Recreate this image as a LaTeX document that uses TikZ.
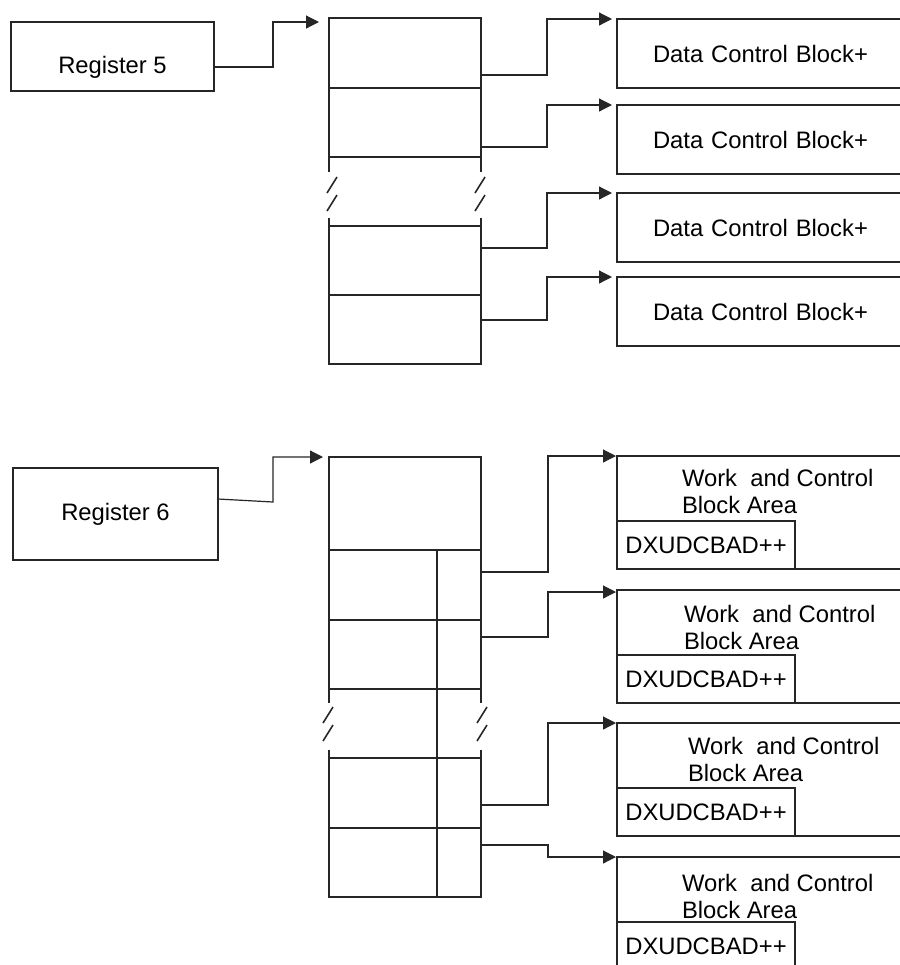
\documentclass[tikz,border=0pt]{standalone}
\usepackage{fontspec}
\setmainfont{Liberation Sans}
\usetikzlibrary{arrows.meta}

\begin{document}
\begin{tikzpicture}[x=0.5pt, y=-0.5pt,
        font=\fontsize{11.9}{13.5}\selectfont,
        every node/.style={inner sep=0pt, outer sep=0pt},
        box/.style={draw=black!85, line width=0.6pt},
        cell/.style={box, anchor=north west, minimum width=76pt},
        dcb/.style={box, anchor=north west, minimum width=156pt, minimum height=34.5pt,
            text width=120pt, inner xsep=18pt, align=left},
        wcb/.style={box, anchor=north west, minimum width=156pt, minimum height=56.5pt},
        dxu/.style={box, anchor=south west, minimum width=89pt, minimum height=24pt},
        wtext/.style={anchor=north west, align=left},
        conn/.style={draw=black!85, line width=0.6pt, -{Triangle[length=6.5pt,width=6.5pt]}},
        brk/.style={draw=black!85, line width=0.8pt}]
            \useasboundingbox (0,0) rectangle (900,965);
            \clip (0,0) rectangle (900,965);

            % upper part
            \node[box, minimum width=101.5pt, minimum height=34.5pt,
                label={[yshift=-5.25pt]center:Register 5}] (r5) at (112.5,56.5) {};
            \node[cell, minimum height=35pt] (a1) at (329,18) {};
            \node[cell, minimum height=34.5pt] (a2) at (329,88) {};
            \node[cell, minimum height=34.5pt] (a3) at (329,226) {};
            \node[cell, minimum height=34.5pt] (a4) at (329,295) {};
            \draw[box] (a2.south west) -- ++(0,15) (a2.south east) -- ++(0,15);
            \draw[box] (a3.north west) -- ++(0,-8) (a3.north east) -- ++(0,-8);
            \draw[brk] ([shift={(8,20)}]a2.south west) -- ++(-10,16)
                ([shift={(8,38)}]a2.south west) -- ++(-10,16)
                ([shift={(4,20)}]a2.south east) -- ++(-10,16)
                ([shift={(4,38)}]a2.south east) -- ++(-10,16);

            \node[dcb] (d1) at (617,19) {Data Control Block+};
            \node[dcb] (d2) at (617,105) {Data Control Block+};
            \node[dcb] (d3) at (617,193) {Data Control Block+};
            \node[dcb] (d4) at (617,277) {Data Control Block+};

            \draw[conn] ([yshift=-5.25pt]r5.east) -- ++(59,0) |- ([xshift=-5pt,yshift=-2pt]a1.north west);
            \draw[conn] ([yshift=6.5pt]a1.south east) -- ++(66,0) |- ([xshift=-2.5pt]d1.north west);
            \draw[conn] ([yshift=5pt]a2.south east) -- ++(66,0) |- ([xshift=-2.5pt]d2.north west);
            \draw[conn] ([yshift=-11pt]a3.north east) -- ++(66,0) |- ([xshift=-2.5pt]d3.north west);
            \draw[conn] ([yshift=-12.5pt]a4.north east) -- ++(66,0) |- ([xshift=-2.5pt]d4.north west);

            % lower part
            \node[box, minimum width=102.5pt, minimum height=46pt] (r6) at (115.5,514) {Register 6};
            \node[cell, minimum height=46.5pt] (b1) at (329,457) {};
            \node[cell, minimum height=35pt] (b2) at (329,550) {};
            \node[cell, minimum height=34.5pt] (b3) at (329,620) {};
            \node[cell, minimum height=35pt] (b4) at (329,758) {};
            \node[cell, minimum height=34.5pt] (b5) at (329,828) {};
            \draw[box] ([xshift=54pt]b2.north west) -- ([xshift=54pt]b5.south west);
            \draw[box] (b3.south west) -- ++(0,14) (b3.south east) -- ++(0,14);
            \draw[box] (b4.north west) -- ++(0,-8) (b4.north east) -- ++(0,-8);
            \draw[brk] ([shift={(4,18)}]b3.south west) -- ++(-10,16)
                ([shift={(4,36)}]b3.south west) -- ++(-10,16)
                ([shift={(6,18)}]b3.south east) -- ++(-10,16)
                ([shift={(6,36)}]b3.south east) -- ++(-10,16);

            \node[wcb] (w1) at (617,456) {};
            \node[dxu] (w1d) at (w1.south west) {DXUDCBAD++};
            \node[wtext] (w1t) at ([shift={(65,13.5)}]w1.north west) {Work\ \ and Control\\Block Area};
            \node[wcb] (w2) at (617,590) {};
            \node[dxu] (w2d) at (w2.south west) {DXUDCBAD++};
            \node[wtext] (w2t) at ([shift={(67,15.5)}]w2.north west) {Work\ \ and Control\\Block Area};
            \node[wcb] (w3) at (617,723) {};
            \node[dxu] (w3d) at (w3.south west) {DXUDCBAD++};
            \node[wtext] (w3t) at ([shift={(71,14.5)}]w3.north west) {Work\ \ and Control\\Block Area};
            \node[wcb] (w4) at (617,857) {};
            \node[dxu] (w4d) at (w4.south west) {DXUDCBAD++};
            \node[wtext] (w4t) at ([shift={(65,17.5)}]w4.north west) {Work\ \ and Control\\Block Area};

            \draw[conn] ([yshift=7.5pt]r6.east) -- ++(55,3) |- ([xshift=-3pt]b1.north west);
            \draw[conn] ([yshift=-11pt]b2.north east) -- ++(67,0) |- ([xshift=-0.5pt]w1.north west);
            \draw[conn] ([yshift=-8.5pt]b3.north east) -- ++(67,0) |- ([xshift=-0.5pt,yshift=-1pt]w2.north west);
            \draw[conn] ([yshift=11.5pt]b4.south east) -- ++(67,0) |- ([xshift=-0.5pt]w3.north west);
            \draw[conn] ([yshift=-8.5pt]b5.north east) -- ++(67,0) |- ([xshift=-0.5pt]w4.north west);
        \end{tikzpicture}
\end{document}
